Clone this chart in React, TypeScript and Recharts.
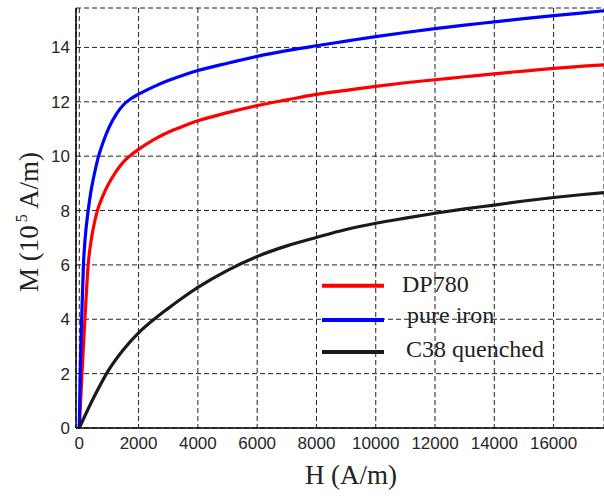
import React from "react";
import { LineChart, Line, XAxis, YAxis, CartesianGrid, Legend, Label } from "recharts";

// H (A/m) sample points and magnetization M (10^5 A/m)
const hIron = [0, 30, 80, 140, 200, 300, 400, 500, 650, 800, 1000, 1250, 1500, 1750, 2000, 2500, 3000, 3500, 4000, 5000, 6000, 7000, 8000, 9000, 10000, 11000, 12000, 13000, 14000, 15000, 16000, 17000, 17700];
const mIron = [0, 2, 4, 6, 7, 8, 8.75, 9.3, 10, 10.5, 11.05, 11.55, 11.9, 12.12, 12.28, 12.55, 12.78, 12.98, 13.15, 13.42, 13.67, 13.88, 14.06, 14.23, 14.4, 14.55, 14.69, 14.82, 14.94, 15.06, 15.17, 15.27, 15.35];

const hDP = [0, 90, 190, 300, 400, 500, 600, 800, 1000, 1250, 1500, 1700, 2000, 2500, 3000, 3500, 4000, 5000, 6000, 7000, 8000, 9000, 10000, 11000, 12000, 13000, 14000, 15000, 16000, 17000, 17700];
const mDP = [0, 2, 4, 6, 6.9, 7.5, 7.95, 8.55, 9.0, 9.45, 9.8, 10.0, 10.25, 10.6, 10.88, 11.1, 11.3, 11.6, 11.86, 12.07, 12.27, 12.42, 12.57, 12.7, 12.81, 12.92, 13.03, 13.13, 13.23, 13.31, 13.36];

const hC38 = [0, 500, 1000, 1500, 2000, 2500, 3000, 3500, 4000, 5000, 6000, 7000, 8000, 9000, 10000, 11000, 12000, 13000, 14000, 15000, 16000, 17000, 17700];
const mC38 = [0, 1.15, 2.15, 2.9, 3.5, 3.98, 4.4, 4.8, 5.17, 5.8, 6.31, 6.7, 7.01, 7.3, 7.53, 7.72, 7.9, 8.06, 8.2, 8.35, 8.48, 8.59, 8.66];

const xTicks = [0, 2000, 4000, 6000, 8000, 10000, 12000, 14000, 16000];
const yTicks = [0, 2, 4, 6, 8, 10, 12, 14];

const seriesNames = ["DP780", "pure iron", "C38 quenched"];
const seriesColors = ["#ff0000", "#0000ff", "#1a1a1a"];

const zip = (hs: number[], ms: number[]) => hs.map((h, i) => ({ h, m: ms[i] }));
const dataDP = zip(hDP, mDP);
const dataIron = zip(hIron, mIron);
const dataC38 = zip(hC38, mC38);

const tickStyle = { fontFamily: "'Liberation Sans', Arial, Helvetica, sans-serif", fontSize: 17, fill: "#262626" };
const serif = "'Liberation Serif', 'Times New Roman', Times, serif";

const legendLineY = [23.7, 58, 90];
const legendTextX = [86, 91, 90];
const legendTextY = [29.7, 61, 94.7];

const LegendContent = () => (
  <svg width={280} height={110} style={{ display: "block", overflow: "visible" }}>
    {seriesNames.map((name, i) => (
      <g key={name}>
        <line x1={6} x2={68} y1={legendLineY[i]} y2={legendLineY[i]} stroke={seriesColors[i]} strokeWidth={4} />
        <text x={legendTextX[i]} y={legendTextY[i]} fontFamily={serif} fontSize={24} fill="#222">
          {name}
        </text>
      </g>
    ))}
  </svg>
);

const XLabel = () => (
  <text x={351} y={484} textAnchor="middle" fontFamily={serif} fontSize={27} fill="#222">
    H (A/m)
  </text>
);

const YLabel = () => (
  <text
    x={38}
    y={222}
    transform="rotate(-90, 38, 222)"
    textAnchor="middle"
    fontFamily={serif}
    fontSize={27}
    fill="#222"
  >
    M (10
    <tspan dx={3} dy={-11} fontSize={16}>5</tspan>
    <tspan dy={11}> A/m)</tspan>
  </text>
);

export default function App() {
  return (
    <div style={{ position: "absolute", left: 0, top: 0, width: 604, height: 496, background: "#fff" }}>
      <LineChart width={604} height={496} margin={{ top: 8, right: 0, bottom: 0, left: 0 }}>
        <CartesianGrid stroke="#222" strokeDasharray="5 3" strokeWidth={1} />
        <XAxis
          dataKey="h"
          type="number"
          domain={[-111, 17700]}
          ticks={xTicks}
          allowDataOverflow
          height={68}
          tickSize={0}
          tickMargin={9}
          tick={tickStyle}
          axisLine={{ stroke: "#000", strokeWidth: 1.5 }}
          tickLine={false}
        >
          <Label content={<XLabel />} />
        </XAxis>
        <YAxis
          dataKey="m"
          type="number"
          domain={[0, 15.45]}
          ticks={yTicks}
          allowDataOverflow
          width={76}
          tickSize={0}
          tickMargin={6}
          tick={tickStyle}
          axisLine={{ stroke: "#000", strokeWidth: 1.5 }}
          tickLine={false}
        >
          <Label content={<YLabel />} />
        </YAxis>
        <Legend
          layout="vertical"
          align="center"
          verticalAlign="middle"
          content={<LegendContent />}
          wrapperStyle={{ left: 316, top: 262, width: 280, height: 110 }}
        />
        <Line data={dataDP} dataKey="m" name={seriesNames[0]} type="monotone" stroke={seriesColors[0]} strokeWidth={3.2} dot={false} activeDot={false} isAnimationActive={false} />
        <Line data={dataIron} dataKey="m" name={seriesNames[1]} type="monotone" stroke={seriesColors[1]} strokeWidth={3.2} dot={false} activeDot={false} isAnimationActive={false} />
        <Line data={dataC38} dataKey="m" name={seriesNames[2]} type="monotone" stroke={seriesColors[2]} strokeWidth={3.2} dot={false} activeDot={false} isAnimationActive={false} />
      </LineChart>
    </div>
  );
}
